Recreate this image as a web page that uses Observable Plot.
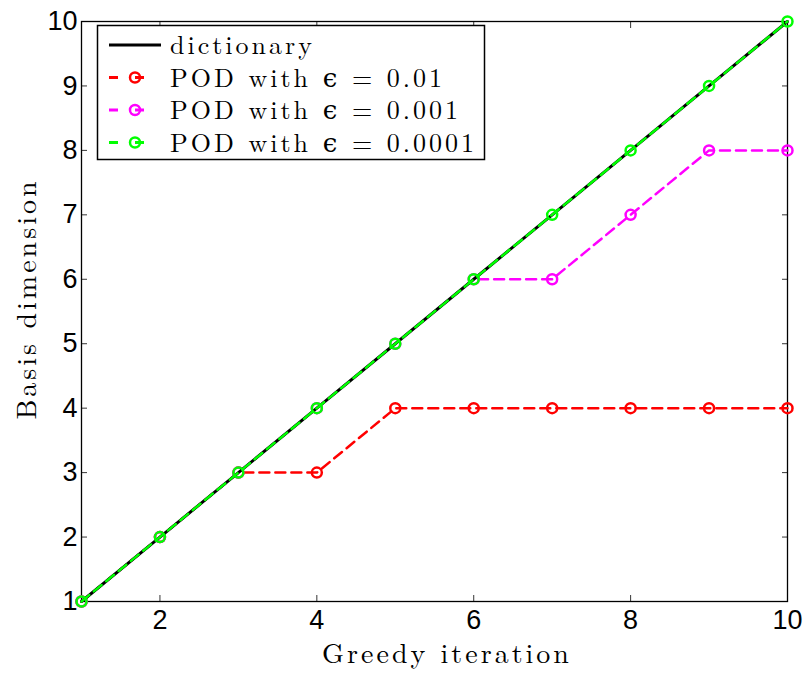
<!DOCTYPE html>
<html><head><meta charset="utf-8">
<script src="https://cdn.jsdelivr.net/npm/d3@7"></script>
<script src="https://cdn.jsdelivr.net/npm/@observablehq/plot@0.6"></script>
<style>body{margin:0;background:#fff}</style>
</head><body><div id="chart"></div>
<script>
const iterations = [1,2,3,4,5,6,7,8,9,10];
const dictionary = [1,2,3,4,5,6,7,8,9,10];
const pod01 = [1,2,3,3,4,4,4,4,4,4];
const pod001 = [1,2,3,4,5,6,6,7,8,8];
const pod0001 = [1,2,3,4,5,6,7,8,9,10];
const xTicks = [2,4,6,8,10];
const yTicks = [1,2,3,4,5,6,7,8,9,10];
const seriesNames = ["dictionary","POD with \u03F5 = 0.01","POD with \u03F5 = 0.001","POD with \u03F5 = 0.0001"];
const seriesColors = ["#000000","#ff0000","#ff00ff","#00ff00"];

const mk = (ys) => iterations.map((x,i)=>({x, y: ys[i]}));
const dRed = mk(pod01), dMag = mk(pod001), dBlack = mk(dictionary), dGreen = mk(pod0001);

const sans = "Helvetica, Arial, 'Liberation Sans', sans-serif";
const serif = "'Latin Modern Roman','CMU Serif','DejaVu Serif',serif";

const dash = "10,6";
const plot = Plot.plot({
  width: 806, height: 675,
  marginLeft: 81, marginRight: 19, marginTop: 21, marginBottom: 74,
  style: {fontFamily: sans, fontSize: "27px", color: "#000", background: "#fff"},
  x: {domain: [1,10], ticks: xTicks, label: null},
  y: {domain: [1,10], ticks: yTicks, label: null},
  marks: [
    Plot.frame({stroke: "#000", strokeWidth: 1.3}),
    Plot.axisX({ticks: xTicks, tickSize: -6, tickPadding: 14, fontSize: 27, strokeWidth: 0.8}),
    Plot.axisX({ticks: xTicks, anchor: "top", tickSize: -6, text: null, strokeWidth: 0.8}),
    Plot.axisY({ticks: yTicks, tickSize: -6, tickPadding: 10, fontSize: 27, strokeWidth: 0.8}),
    Plot.axisY({ticks: yTicks, anchor: "right", tickSize: -6, text: null, strokeWidth: 0.8}),
    Plot.line(dRed, {x:"x", y:"y", stroke: seriesColors[1], strokeWidth: 2.5, strokeDasharray: dash}),
    Plot.dot(dRed, {x:"x", y:"y", stroke: seriesColors[1], strokeWidth: 2.5, r: 5, fill: "none"}),
    Plot.line(dMag, {x:"x", y:"y", stroke: seriesColors[2], strokeWidth: 2.5, strokeDasharray: dash}),
    Plot.dot(dMag, {x:"x", y:"y", stroke: seriesColors[2], strokeWidth: 2.5, r: 5, fill: "none"}),
    Plot.line(dBlack, {x:"x", y:"y", stroke: seriesColors[0], strokeWidth: 3}),
    Plot.line(dGreen, {x:"x", y:"y", stroke: seriesColors[3], strokeWidth: 2.5, strokeDasharray: dash}),
    Plot.dot(dGreen, {x:"x", y:"y", stroke: seriesColors[3], strokeWidth: 2.5, r: 5, fill: "none"})
  ]
});
document.getElementById("chart").appendChild(plot);

const svg = d3.select(plot);
// axis titles
svg.append("text").attr("x", 447).attr("y", 663).attr("text-anchor","middle")
  .attr("font-family", serif).attr("font-size", 28).attr("letter-spacing", "3px")
  .text("Greedy iteration");
svg.append("text").attr("transform","translate(36,299) rotate(-90)").attr("text-anchor","middle")
  .attr("font-family", serif).attr("font-size", 28).attr("letter-spacing", "3px")
  .text("Basis dimension");

// legend
const lg = svg.append("g");
lg.append("rect").attr("x",97.5).attr("y",25.5).attr("width",387).attr("height",134)
  .attr("fill","#fff").attr("stroke","#000").attr("stroke-width",1.5);
seriesNames.forEach((name,i)=>{
  const yy = 45 + i*32.5;
  const g = lg.append("g");
  g.append("line").attr("x1",109).attr("x2",161).attr("y1",yy).attr("y2",yy)
    .attr("stroke",seriesColors[i]).attr("stroke-width", i===0?3:2.8)
    .attr("stroke-dasharray", i===0?null:"9,17");
  if(i>0) g.append("circle").attr("cx",135).attr("cy",yy).attr("r",5)
    .attr("fill","none").attr("stroke",seriesColors[i]).attr("stroke-width",2.5);
  g.append("text").attr("x",170).attr("y",yy).attr("dy","0.35em").attr("text-anchor","start")
    .attr("font-family",serif).attr("font-size",26).attr("letter-spacing","3px")
    .text(name);
});
</script></body></html>
